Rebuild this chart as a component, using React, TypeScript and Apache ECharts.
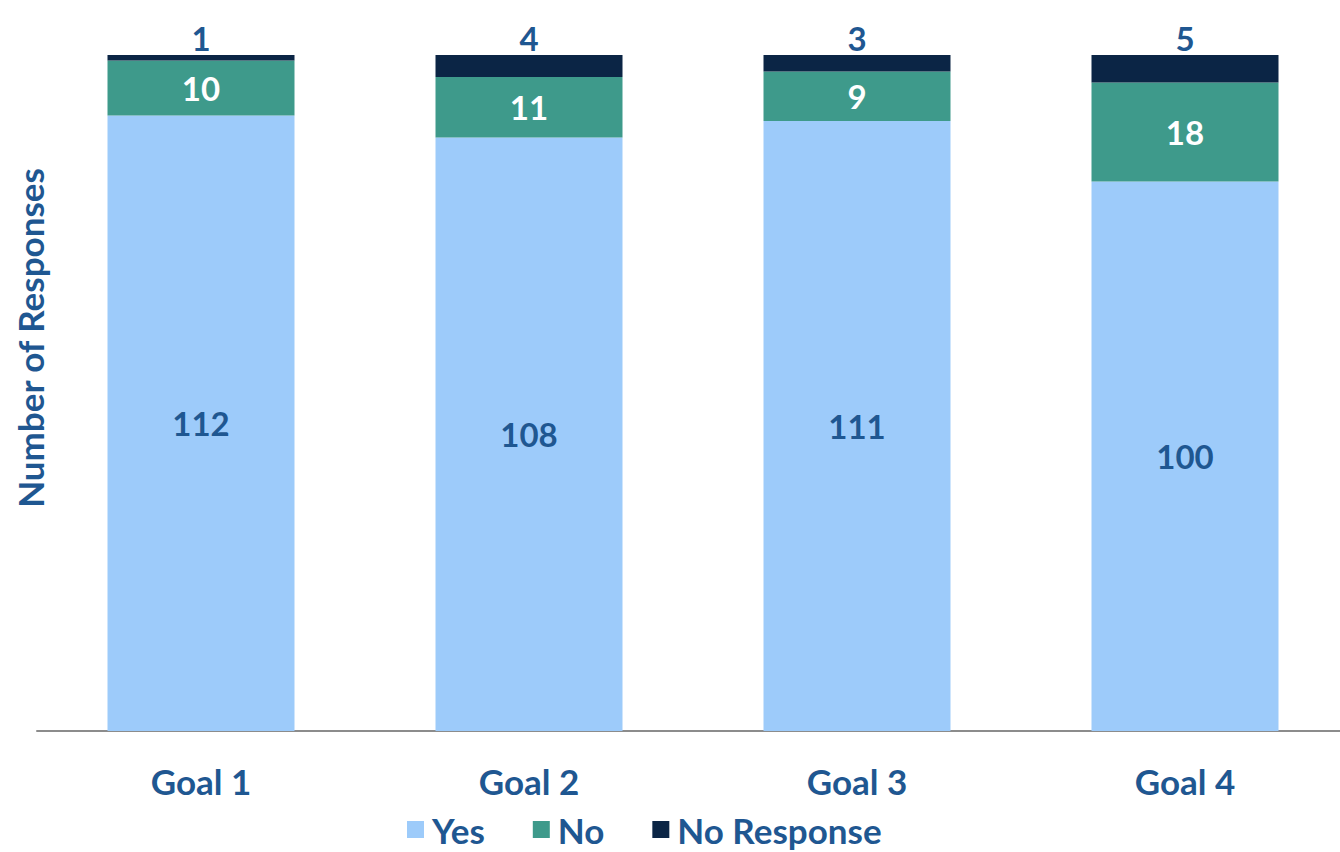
import React, { useEffect, useRef } from "react";
import * as echarts from "echarts";

const categories = ["Goal 1", "Goal 2", "Goal 3", "Goal 4"];
const yesValues = [112, 108, 111, 100];
const noValues = [10, 11, 9, 18];
const noResponseValues = [1, 4, 3, 5];
const seriesNames = ["Yes", "No", "No Response"];

const FONT = "Lato, 'Open Sans', sans-serif";
const LABEL_BLUE = "#1F5791";

export default function App() {
  const ref = useRef<HTMLDivElement>(null);
  useEffect(() => {
    if (!ref.current) return;
    const chart = echarts.init(ref.current, undefined, { renderer: "svg" });
    chart.setOption({
      animation: false,
      backgroundColor: "#ffffff",
      textStyle: { fontFamily: FONT },
      grid: { left: 37, right: 0, top: 55, bottom: 121, containLabel: false },
      legend: {
        data: seriesNames,
        bottom: 0,
        left: 402,
        icon: "rect",
        itemWidth: 17,
        itemHeight: 17,
        itemGap: 48,
        textStyle: { fontFamily: FONT, fontSize: 35, fontWeight: "bold", color: LABEL_BLUE, padding: [0, 0, 0, 3] },
      },
      xAxis: {
        type: "category",
        data: categories,
        axisLine: { show: true, lineStyle: { color: "#8C8C8C", width: 2 } },
        axisTick: { show: false },
        axisLabel: { fontFamily: FONT, fontSize: 35, fontWeight: "bold", color: LABEL_BLUE, margin: 32 },
      },
      yAxis: {
        type: "value",
        min: 0,
        max: 123,
        show: false,
        splitLine: { show: false },
      },
      graphic: [
        {
          type: "text",
          x: 30,
          y: 338,
          rotation: Math.PI / 2,
          style: {
            text: "Number of Responses",
            fontFamily: FONT,
            fontSize: 35,
            fontWeight: "bold",
            fill: LABEL_BLUE,
            align: "center",
            verticalAlign: "middle",
          },
        },
      ],
      series: [
        {
          name: "Yes",
          type: "bar",
          stack: "total",
          barWidth: 187,
          data: yesValues,
          itemStyle: { color: "#9DCBFA" },
          label: { show: true, position: "inside", fontFamily: FONT, fontSize: 33, fontWeight: "bold", color: LABEL_BLUE },
        },
        {
          name: "No",
          type: "bar",
          stack: "total",
          barWidth: 187,
          data: noValues,
          itemStyle: { color: "#3E9A8B" },
          label: { show: true, position: "inside", fontFamily: FONT, fontSize: 33, fontWeight: "bold", color: "#FFFFFF" },
        },
        {
          name: "No Response",
          type: "bar",
          stack: "total",
          barWidth: 187,
          data: noResponseValues,
          itemStyle: { color: "#0B2545" },
          label: { show: true, position: "top", distance: 1, fontFamily: FONT, fontSize: 33, fontWeight: "bold", color: LABEL_BLUE },
        },
      ],
    });
    return () => chart.dispose();
  }, []);
  return (
    <div
      style={{ position: "absolute", left: 0, top: 0, width: 1340, height: 852, overflow: "hidden", background: "#fff" }}
    >
      <div ref={ref} style={{ width: 1349, height: 852 }} />
    </div>
  );
}
